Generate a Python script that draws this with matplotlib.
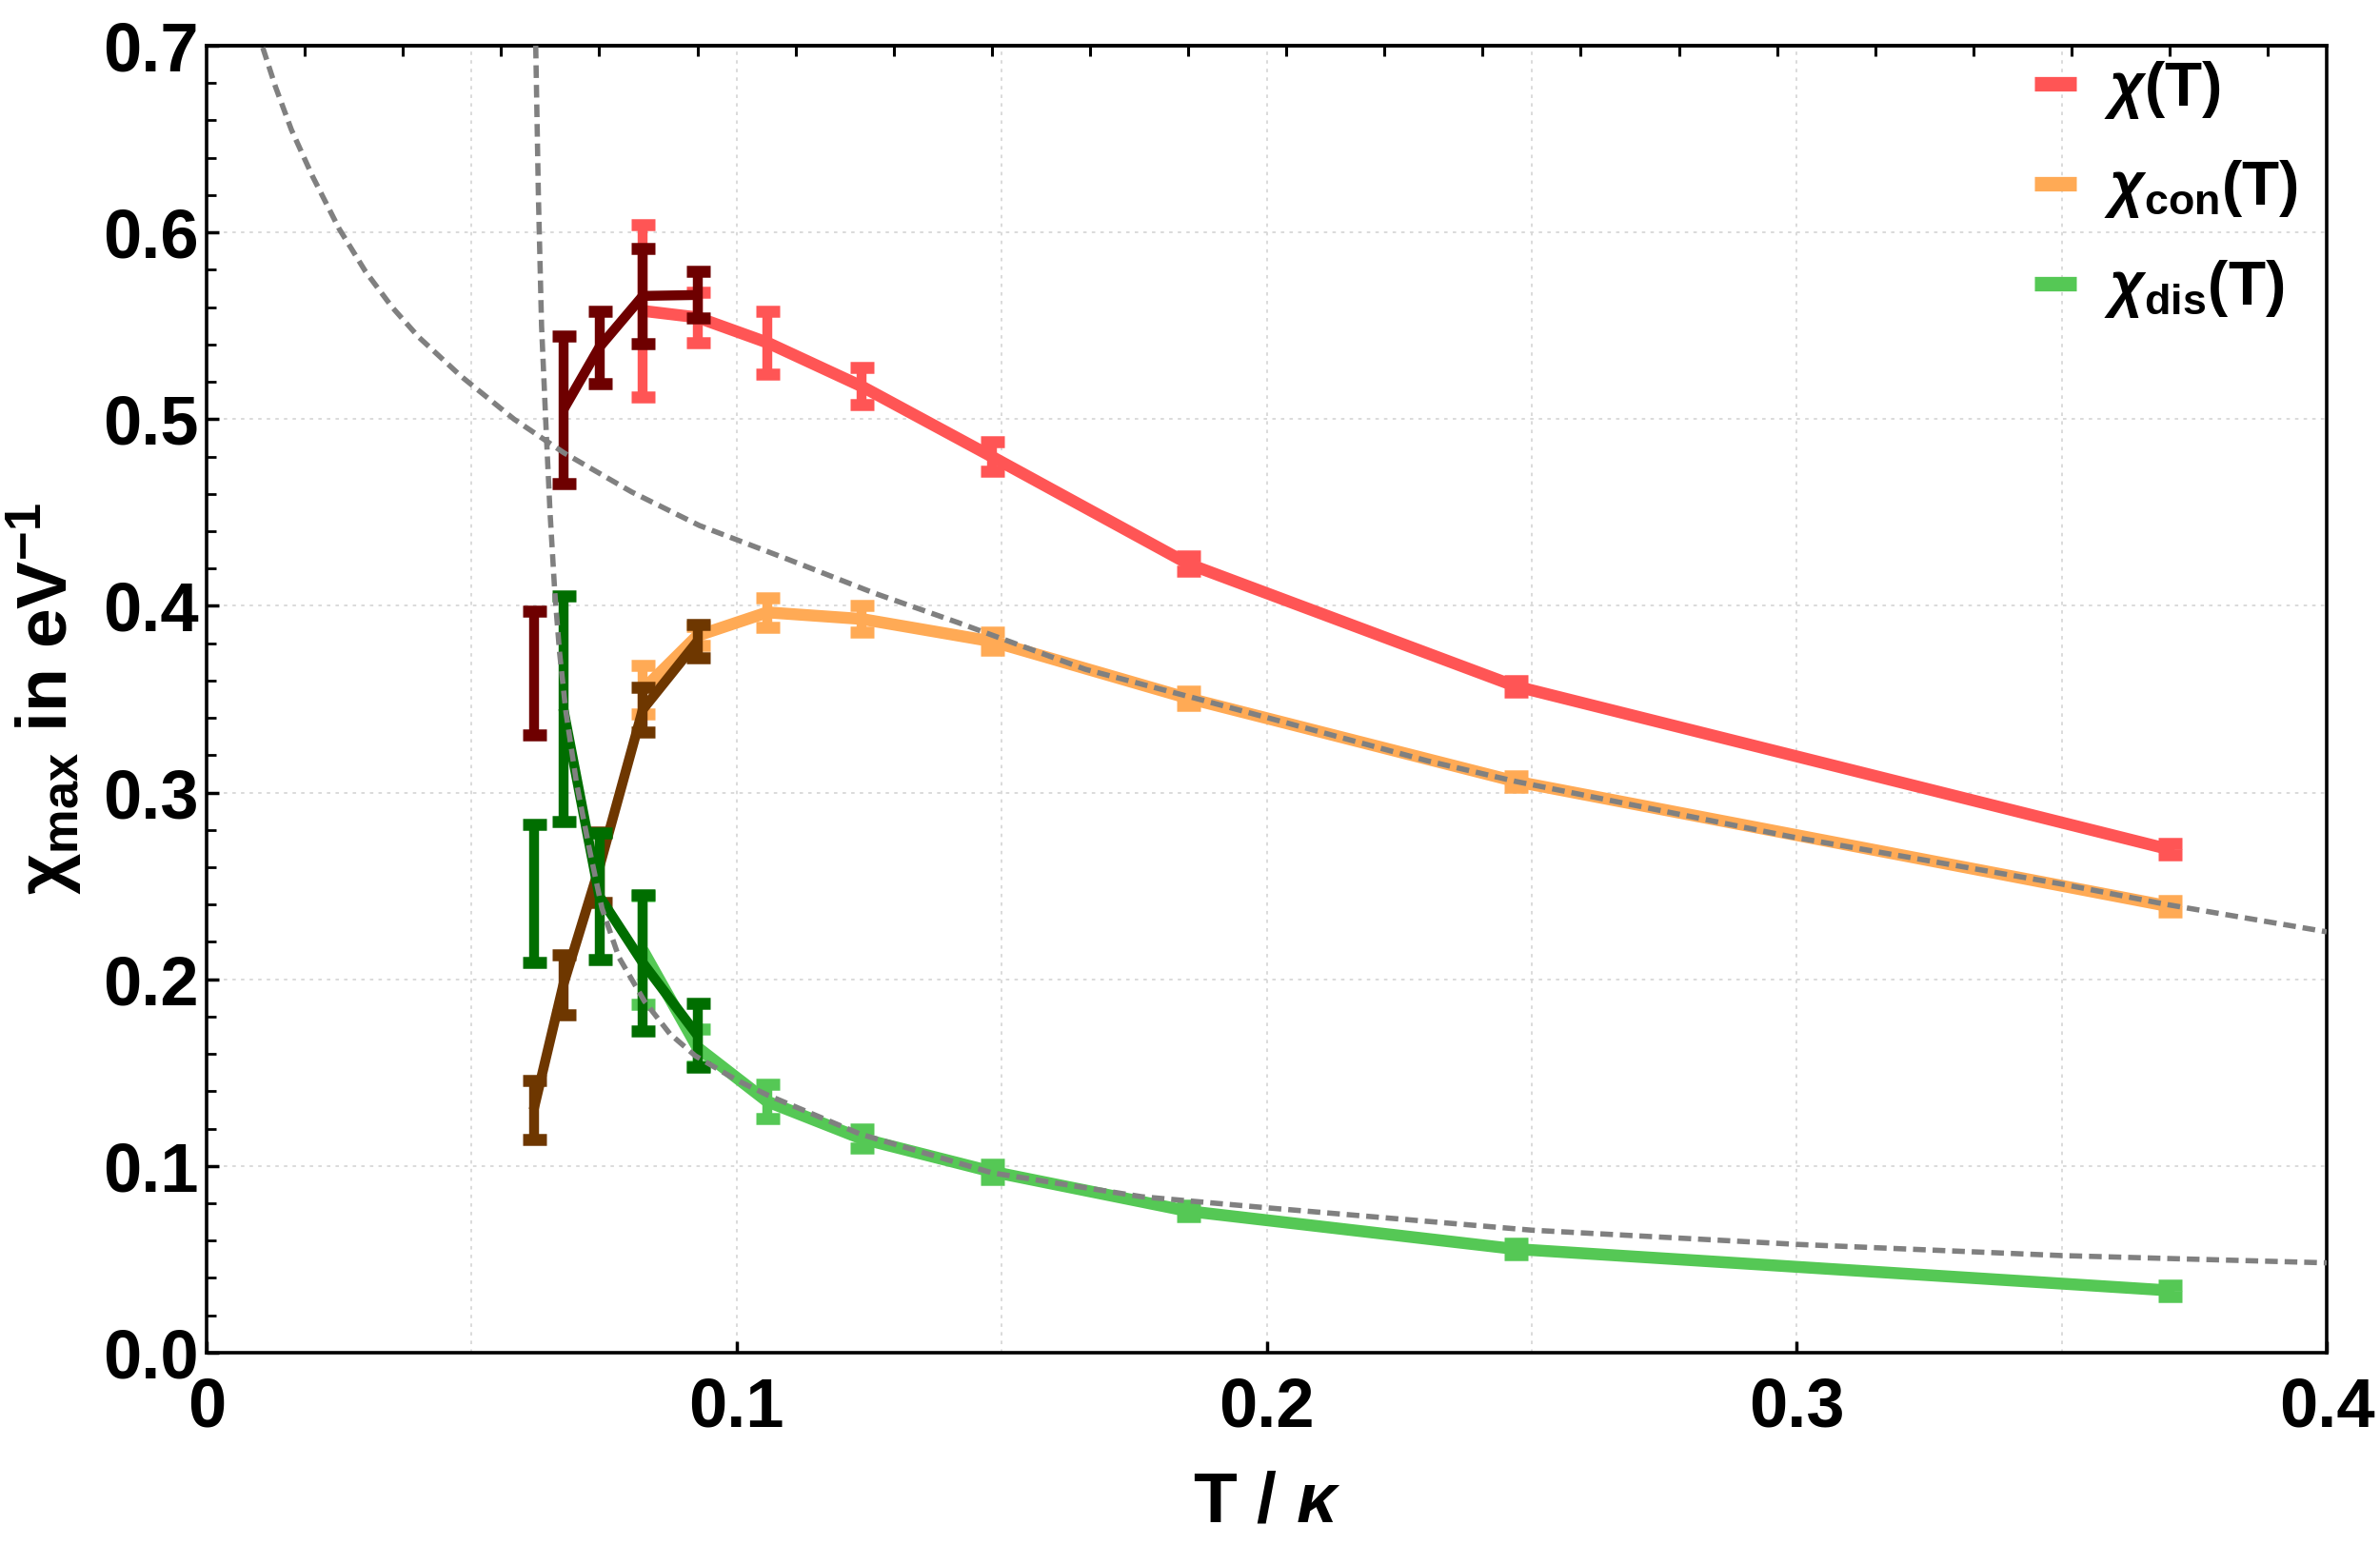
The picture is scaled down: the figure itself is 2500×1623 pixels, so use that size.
import numpy as np
import matplotlib
matplotlib.use("Agg")
import matplotlib.pyplot as plt
from matplotlib.ticker import MultipleLocator
from matplotlib.lines import Line2D

plt.rcParams['font.family'] = ['Liberation Sans', 'DejaVu Sans']
plt.rcParams['font.weight'] = 'bold'
plt.rcParams['axes.labelweight'] = 'bold'
plt.rcParams['mathtext.fontset'] = 'custom'
plt.rcParams['mathtext.rm'] = 'Liberation Sans:bold'
plt.rcParams['mathtext.it'] = 'Liberation Sans:italic:bold'
plt.rcParams['mathtext.bf'] = 'Liberation Sans:bold'

# temperatures T / kappa
T_lo = [0.0617, 0.0673, 0.0741, 0.0823, 0.0926]
T_hi = [0.0823, 0.0926, 0.1058, 0.1235, 0.1481, 0.1852, 0.2469, 0.3704]

# high-T branch (light colours)
chi = [0.558, 0.5545, 0.541, 0.5177, 0.480, 0.4225, 0.357, 0.2695]
chi_err = [0.046, 0.0135, 0.017, 0.010, 0.008, 0.004, 0.003, 0.003]
chi_con = [0.355, 0.384, 0.3965, 0.393, 0.381, 0.3505, 0.306, 0.239]
chi_con_err = [0.013, 0.005, 0.008, 0.007, 0.005, 0.004, 0.003, 0.003]
chi_dis = [0.2155, 0.1635, 0.1345, 0.1147, 0.0970, 0.0758, 0.0555, 0.0333]
chi_dis_err = [0.029, 0.010, 0.009, 0.005, 0.004, 0.003, 0.003, 0.003]

# low-T branch (dark colours)
chi_lo = [0.364, 0.505, 0.5385, 0.566, 0.5665]
chi_lo_err = [0.033, 0.0395, 0.0195, 0.0255, 0.0125]
chi_con_lo = [0.130, 0.197, 0.260, 0.3445, 0.381]
chi_con_lo_err = [0.016, 0.016, 0.019, 0.012, 0.009]
chi_dis_lo = [0.246, 0.345, 0.2445, 0.2088, 0.170]
chi_dis_lo_err = [0.037, 0.0605, 0.034, 0.0365, 0.017]

# dashed guide curves
fit1_x = [0.0106, 0.013, 0.016, 0.020, 0.025, 0.030, 0.035, 0.040, 0.048, 0.058,
          0.0674, 0.0802, 0.093, 0.1098, 0.1258, 0.1418, 0.1658, 0.1872, 0.2303,
          0.2469, 0.299, 0.35, 0.3699, 0.40]
fit1_y = [0.699, 0.678, 0.655, 0.630, 0.602, 0.579, 0.560, 0.544, 0.523, 0.500,
          0.482, 0.461, 0.443, 0.4248, 0.407, 0.391, 0.366, 0.350, 0.317,
          0.306, 0.2763, 0.251, 0.240, 0.2254]
fit2_x = [0.0621, 0.0626, 0.0632, 0.0641, 0.0648, 0.0657, 0.0666, 0.0678, 0.0698, 0.0722,
          0.0746, 0.0778, 0.0826, 0.0874, 0.0922, 0.100, 0.1058, 0.1234, 0.1482, 0.1765,
          0.200, 0.250, 0.300, 0.350, 0.400]
fit2_y = [0.700, 0.620, 0.550, 0.492, 0.450, 0.407, 0.375, 0.343, 0.305, 0.270,
          0.238, 0.2117, 0.1883, 0.1708, 0.159, 0.146, 0.138, 0.117, 0.0963, 0.0835,
          0.0776, 0.0656, 0.058, 0.052, 0.0481]

red, orange, green = '#FF5555', '#FFAA55', '#55C855'
dred, brown, dgreen = '#6E0000', '#6E3700', '#006E00'

fig = plt.figure(figsize=(25, 16.23), dpi=100)
ax = fig.add_axes([0.0868, 0.1245, 0.8908, 0.8459])


def draw(T, y, e, color, lw, z, start=0):
    ax.plot(T[start:], y[start:], color=color, lw=lw, zorder=z,
            solid_joinstyle='round', solid_capstyle='butt')
    ax.errorbar(T, y, yerr=e, fmt='none', ecolor=color, elinewidth=7.5,
                capsize=9, capthick=9, zorder=z)


draw(T_hi, chi, chi_err, red, 9, 2)
draw(T_hi, chi_con, chi_con_err, orange, 9, 2)
draw(T_hi, chi_dis, chi_dis_err, green, 9, 2)
draw(T_lo, chi_lo, chi_lo_err, dred, 7.5, 3, start=1)
draw(T_lo, chi_con_lo, chi_con_lo_err, brown, 7.5, 3)
draw(T_lo, chi_dis_lo, chi_dis_lo_err, dgreen, 7.5, 3, start=1)

ax.plot(fit1_x, fit1_y, color='#808080', lw=4, ls=(0, (2.4, 1.3)), zorder=5)
ax.plot(fit2_x, fit2_y, color='#808080', lw=4, ls=(0, (2.4, 1.3)), zorder=5)

ax.set_xlim(0, 0.4)
ax.set_ylim(0, 0.7)
ax.set_xticks([0, 0.1, 0.2, 0.3, 0.4])
ax.set_xticklabels(['0', '0.1', '0.2', '0.3', '0.4'])
ax.set_yticks([0, 0.1, 0.2, 0.3, 0.4, 0.5, 0.6, 0.7])
ax.set_yticklabels(['0.0', '0.1', '0.2', '0.3', '0.4', '0.5', '0.6', '0.7'])
ax.xaxis.set_minor_locator(MultipleLocator(0.05))
ax.yaxis.set_minor_locator(MultipleLocator(0.02))
ax.tick_params(axis='both', which='major', direction='in', labelsize=52,
               width=2.5, length=9)
ax.tick_params(axis='x', which='major', pad=18)
ax.tick_params(axis='y', which='major', pad=6)
ax.tick_params(axis='x', which='minor', length=0)
ax.tick_params(axis='y', which='minor', direction='in', length=7, width=2)

ax.grid(which='major', color='#d8d8d8', ls=(0, (2, 3)), lw=1.3)
ax.xaxis.grid(which='minor', color='#d8d8d8', ls=(0, (2, 3)), lw=1.3)
ax.set_axisbelow(True)

for s in ax.spines.values():
    s.set_linewidth(2.6)

top = ax.secondary_xaxis('top')
top.set_xticks(np.arange(1, 22) / 54)
top.set_xticklabels([])
top.tick_params(direction='in', length=8, width=2.2)
top.spines['top'].set_linewidth(2.6)

ax.set_xlabel('T / $κ$', fontsize=54, labelpad=22)
ax.set_ylabel('χ$_{\\mathrm{max}}$ in eV$^{\\mathrm{-1}}$', fontsize=54, labelpad=14)

handles = [Line2D([], [], color=c, lw=11, solid_capstyle='butt') for c in (red, orange, green)]
labels = ['$χ$(T)', '$χ_{\\mathrm{con}}$(T)', '$χ_{\\mathrm{dis}}$(T)']
ax.legend(handles, labels, loc='upper left', bbox_to_anchor=(0.862, 0.99),
          frameon=False, fontsize=46, handlelength=0.7, handletextpad=0.45,
          labelspacing=0.62, borderpad=0, borderaxespad=0)

fig.savefig('out.png', dpi=100)
